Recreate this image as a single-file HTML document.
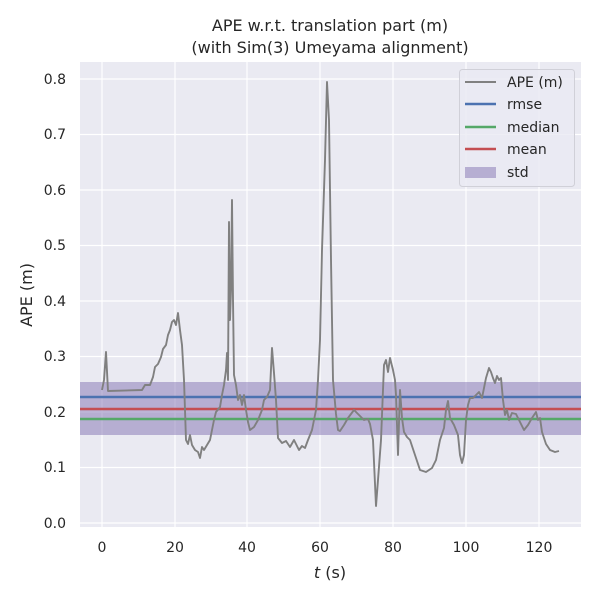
<!DOCTYPE html>
<html><head><meta charset="utf-8"><style>
body{margin:0;background:#fff;}
svg text{font-family:"DejaVu Sans","Liberation Sans",sans-serif;fill:#262626;}
</style></head><body>
<svg width="600" height="600" viewBox="0 0 600 600" xmlns="http://www.w3.org/2000/svg">
<rect x="80" y="62" width="501" height="465" fill="#eaeaf2"/>
<g stroke="#fff" stroke-width="1.2">
<line x1="102" y1="62" x2="102" y2="527"/><line x1="175" y1="62" x2="175" y2="527"/><line x1="247" y1="62" x2="247" y2="527"/><line x1="320" y1="62" x2="320" y2="527"/><line x1="393" y1="62" x2="393" y2="527"/><line x1="466" y1="62" x2="466" y2="527"/><line x1="539" y1="62" x2="539" y2="527"/>
<line x1="80" y1="523" x2="581" y2="523"/><line x1="80" y1="467.5" x2="581" y2="467.5"/><line x1="80" y1="412" x2="581" y2="412"/><line x1="80" y1="356.5" x2="581" y2="356.5"/><line x1="80" y1="301" x2="581" y2="301"/><line x1="80" y1="245.5" x2="581" y2="245.5"/><line x1="80" y1="190" x2="581" y2="190"/><line x1="80" y1="134.5" x2="581" y2="134.5"/><line x1="80" y1="79" x2="581" y2="79"/>
</g>
<rect x="80" y="382" width="501" height="53" fill="#8172b2" fill-opacity="0.5"/>
<line x1="80" y1="397" x2="581" y2="397" stroke="#4c72b0" stroke-width="2.5"/>
<line x1="80" y1="409" x2="581" y2="409" stroke="#c44e52" stroke-width="2.5"/>
<line x1="80" y1="419" x2="581" y2="419" stroke="#55a868" stroke-width="2.5"/>
<polyline fill="none" stroke="#808080" stroke-width="1.9" stroke-linejoin="round" points="102,390 104,380 106,352 108,391 142,390 145,385 150,385 153,377 155,367 158,364 161,357 163,349 166,345 168,335 170,330 172,322 174,320 176,325 178,313 180,330 182,345 184,380 186,440 188,444 190,435 192,445 195,450 198,452 200,458 202,447 204,450 207,445 210,440 214,420 216,412 220,407 222,395 224,385 226,370 227,353 228,380 229,222 230,320 231,290 232,200 233,300 234,375 236,385 238,400 240,395 242,405 244,395 246,410 248,422 250,430 254,427 258,420 262,410 264,400 267,397 270,390 272,348 274,373 276,400 278,438 282,443 286,441 290,447 294,440 297,446 299,450 302,446 305,448 308,440 312,430 316,410 318,380 320,340 322,250 325,160 327,82 329,120 331,260 333,380 336,414 338,430 340,431 344,425 348,418 354,410 360,416 364,420 368,419 370,424 373,440 376,506 378,480 381,440 384,365 386,360 388,372 390,358 393,370 395,380 396,395 398,455 400,390 402,418 404,432 407,437 410,440 414,452 420,470 426,472 432,468 436,460 440,440 444,428 446,410 448,401 450,418 454,425 458,435 460,455 462,463 464,455 466,420 468,405 470,398 473,398 476,395 479,392 482,398 486,378 489,368 491,372 493,378 495,383 497,376 499,380 501,378 503,400 505,415 507,410 509,420 512,413 516,414 520,422 524,430 528,425 532,418 536,412 538,420 540,418 542,432 546,444 550,450 555,452 559,451"/>
<g font-size="14" text-anchor="end">
<text x="66" y="528">0.0</text><text x="66" y="472">0.1</text><text x="66" y="417">0.2</text><text x="66" y="361">0.3</text><text x="66" y="306">0.4</text><text x="66" y="250">0.5</text><text x="66" y="195">0.6</text><text x="66" y="139">0.7</text><text x="66" y="84">0.8</text>
</g>
<g font-size="14" text-anchor="middle">
<text x="102" y="552">0</text><text x="175" y="552">20</text><text x="247" y="552">40</text><text x="320" y="552">60</text><text x="393" y="552">80</text><text x="466" y="552">100</text><text x="539" y="552">120</text>
</g>
<text x="330" y="578" font-size="16" text-anchor="middle"><tspan font-style="italic">t</tspan> (s)</text>
<text transform="translate(32,295) rotate(-90)" font-size="16" text-anchor="middle">APE (m)</text>
<text x="330" y="31" font-size="16" text-anchor="middle">APE w.r.t. translation part (m)</text>
<text x="330" y="53" font-size="16" text-anchor="middle">(with Sim(3) Umeyama alignment)</text>
<rect x="459.5" y="69.5" width="115" height="117" rx="3" fill="#eaeaf2" fill-opacity="0.8" stroke="#d0d0d8"/>
<line x1="465" y1="82" x2="496" y2="82" stroke="#808080" stroke-width="1.9"/>
<line x1="465" y1="104" x2="496" y2="104" stroke="#4c72b0" stroke-width="2.5"/>
<line x1="465" y1="127" x2="496" y2="127" stroke="#55a868" stroke-width="2.5"/>
<line x1="465" y1="149" x2="496" y2="149" stroke="#c44e52" stroke-width="2.5"/>
<rect x="465" y="167" width="31" height="11" fill="#8172b2" fill-opacity="0.5"/>
<g font-size="14"><text x="507" y="87">APE (m)</text><text x="507" y="109">rmse</text><text x="507" y="132">median</text><text x="507" y="154">mean</text><text x="507" y="177">std</text></g>
</svg>
</body></html>
